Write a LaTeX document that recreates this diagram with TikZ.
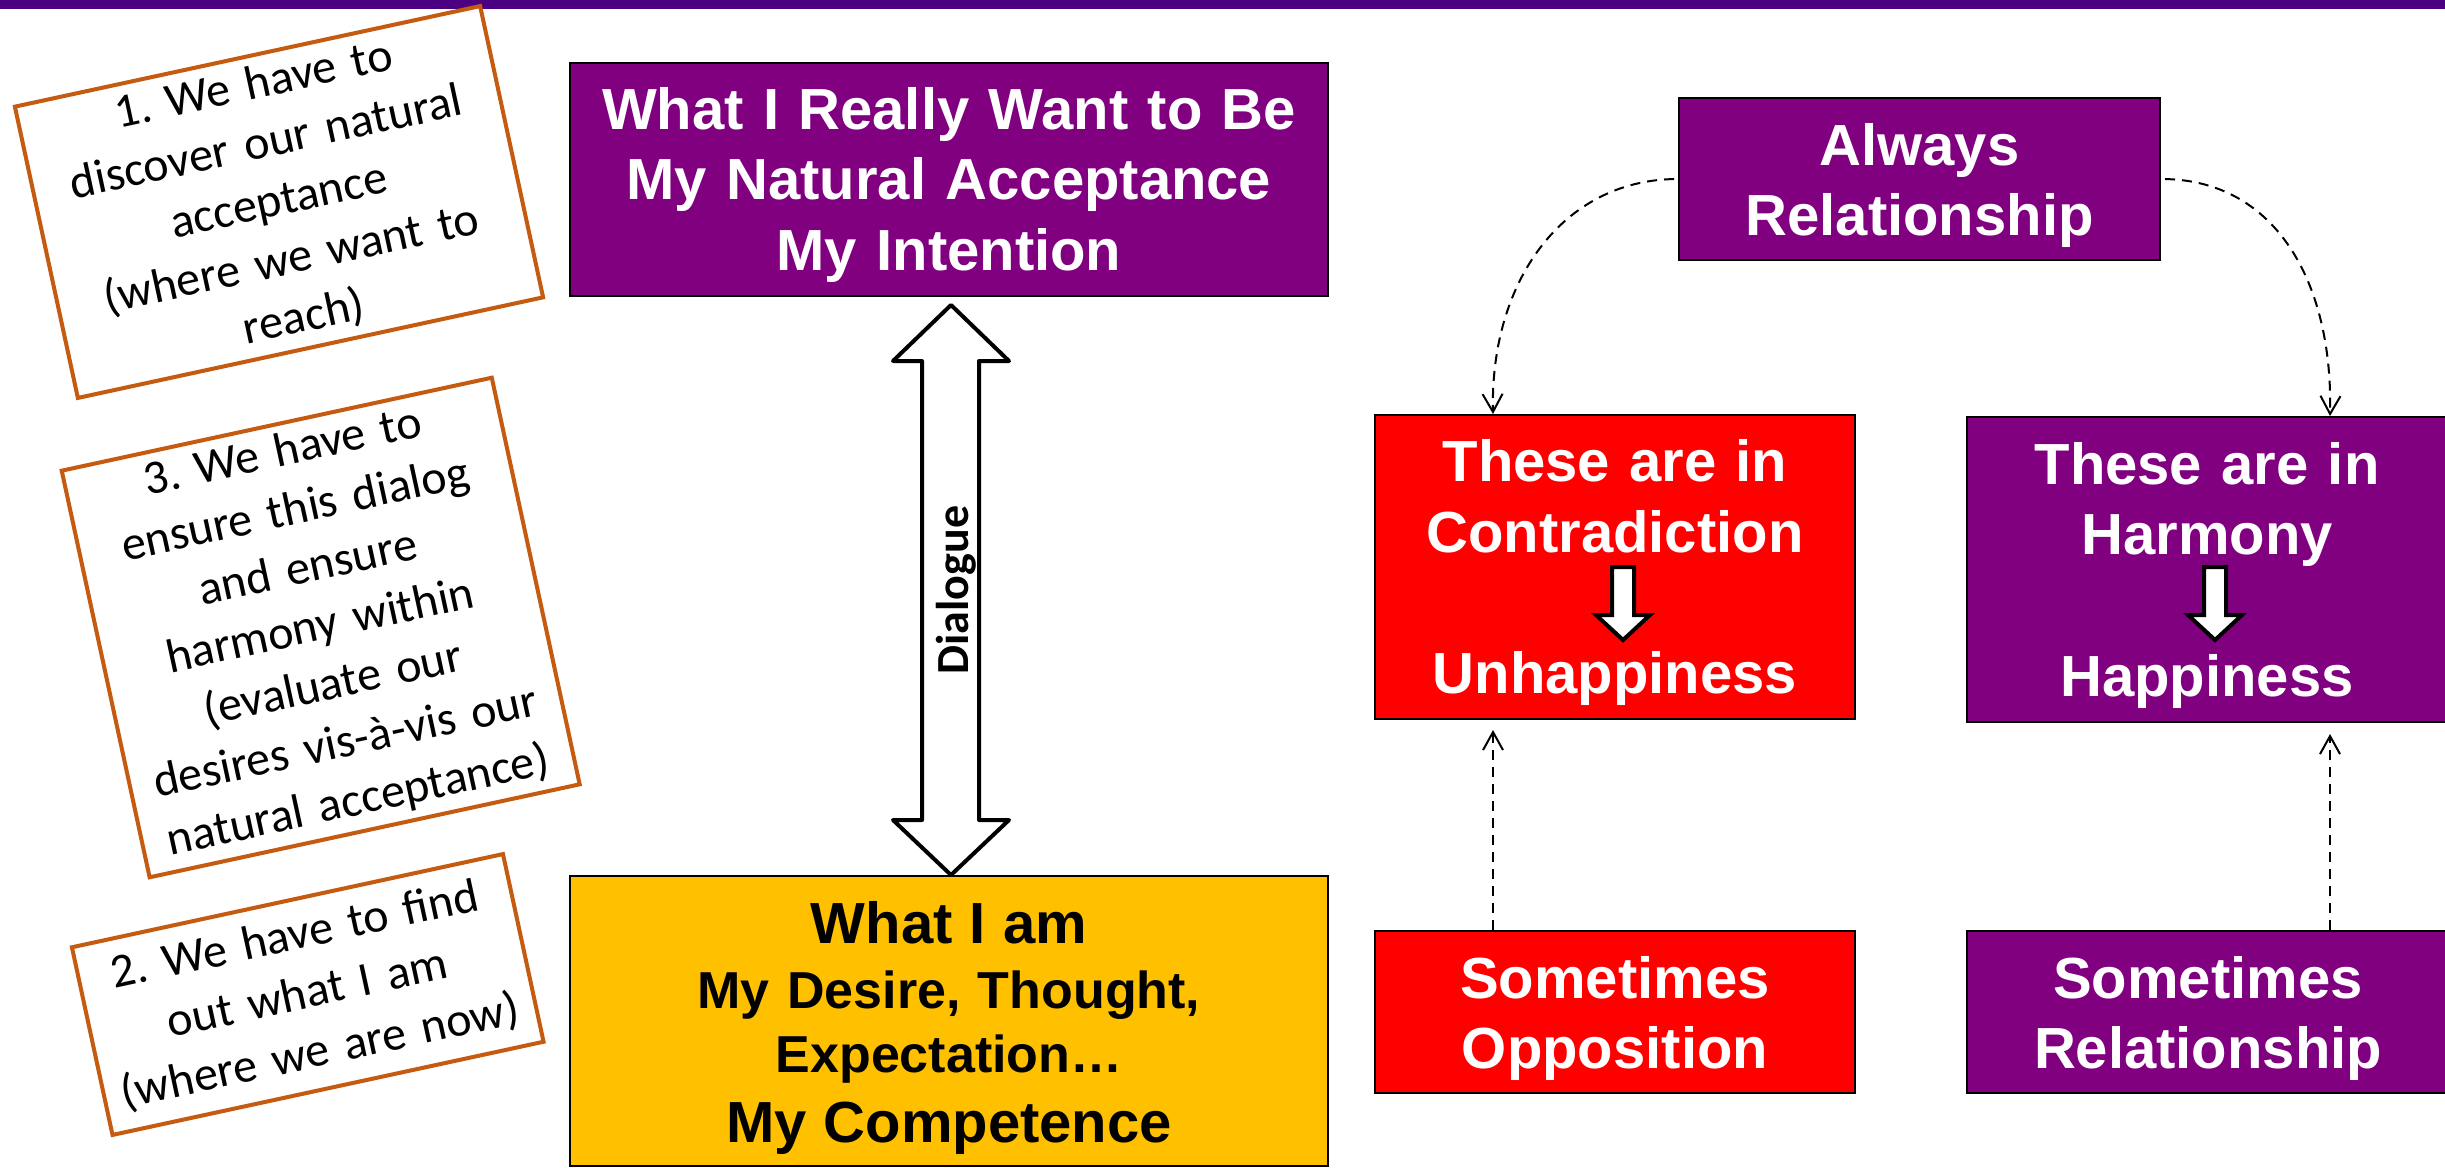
\documentclass[tikz,border=0pt]{standalone}
\usepackage{fontspec}
\setmainfont{Liberation Sans}
\newfontfamily\carlito{Carlito}
\usetikzlibrary{arrows.meta,calc}
\definecolor{barcol}{HTML}{4B0082}
\definecolor{purp}{HTML}{800080}
\definecolor{redc}{HTML}{FF0000}
\definecolor{yelc}{HTML}{FFC000}
\definecolor{notecol}{HTML}{C55A11}
\frenchspacing
\begin{document}
\begin{tikzpicture}[x=0.5pt,y=-0.5pt,
  box/.style={draw=black, line width=1pt, inner sep=0pt},
  btxt/.style={inner sep=0pt, align=center, text=white, font=\bfseries\fontsize{29}{35.25}\selectfont},
  note/.style={draw=notecol, line width=2pt, fill=white, inner sep=0pt, align=center, rotate=12.2, font=\carlito\fontsize{24}{29.75}\selectfont},
  dashedconn/.style={line width=1pt, dash pattern=on 5pt off 3.5pt, -{Straight Barb[length=9pt,width=10pt]}},
  blockarrow/.style={line width=2pt, fill=white, draw=black, line join=miter}
]
\useasboundingbox (0,0) rectangle (2445,1167);
\fill[white] (0,0) rectangle (2445,1167);
\fill[barcol] (0,0) rectangle (2445,9);

% left notes
\node[note, minimum width=238pt, minimum height=149pt, text width=230pt] (n1) at (279,202)
  {1. We have to\\discover our natural\\acceptance\\(where we want to\\reach)};
\node[note, minimum width=220pt, minimum height=208pt, text width=212pt] (n3) at (320.7,627.5)
  {3. We have to\\ensure this dialog\\and ensure\\harmony within\\(evaluate our\\desires vis-à-vis our\\natural acceptance)};
\node[note, minimum width=220.5pt, minimum height=96pt, text width=212pt] (n2) at (307.75,994.5)
  {2. We have to find\\out what I am\\(where we are now)};

% centre boxes
\node[box, fill=purp, minimum width=379pt, minimum height=116.5pt] (tb) at (949,179.5) {};
\node[btxt, text width=375pt] (ttb) at (949,185) {What I Really Want to Be\\My Natural Acceptance\\My Intention};
\node[box, fill=yelc, minimum width=379pt, minimum height=145pt] (yb) at (949,1021) {};
\node[inner sep=0pt, align=center, text=black, text width=375pt, font=\bfseries\fontsize{26}{32.25}\selectfont] (tyb) at (949,1028)
  {{\fontsize{29}{32.25}\selectfont What I am}\\My Desire, Thought,\\Expectation…\\[2.75pt]{\fontsize{29}{32.25}\selectfont My Competence}};

% dialogue arrow
\draw[blockarrow, line width=2pt, line join=round] (951,305) -- (1009,361) -- (979,361) -- (979,820) -- (1009,820) -- (951,875)
  -- (893,820) -- (922,820) -- (922,361) -- (893,361) -- cycle;
\node[inner sep=0pt, rotate=90, font=\carlito\bfseries\fontsize{23}{27}\selectfont] (dlg) at (956.5,590) {Dialogue};

% right boxes
\node[box, fill=purp, minimum width=240.5pt, minimum height=81pt] (al) at (1919.5,179) {};
\node[btxt, text width=238pt] (tal) at (1919.5,185.3) {Always\\Relationship};

\node[box, fill=redc, minimum width=240pt, minimum height=152pt] (rc) at (1615,567) {};
\node[btxt, text width=238pt] (trc) at (1615,496.3) {These are in\\Contradiction};
\node[inner sep=0pt, anchor=base, text=white, font=\bfseries\fontsize{29}{35.25}\selectfont] (trc2) at (1615,693) {Unhappiness};
\draw[blockarrow] (1612,567) -- (1634,567) -- (1634,615) -- (1650,615) -- (1623,640) -- (1596,615) -- (1612,615) -- cycle;

\node[box, fill=purp, minimum width=240pt, minimum height=152.5pt] (hm) at (2207,569.5) {};
\node[btxt, text width=238pt] (thm) at (2207,504.4) {These are in\\Harmony};
\node[inner sep=0pt, anchor=base, text=white, font=\bfseries\fontsize{29}{35.25}\selectfont] (thm2) at (2207,696) {Happiness};
\draw[blockarrow] (2204,567) -- (2226,567) -- (2226,615) -- (2242,615) -- (2215,640) -- (2188,615) -- (2204,615) -- cycle;

\node[box, fill=redc, minimum width=240pt, minimum height=81pt] (so) at (1615,1012) {};
\node[btxt, text width=238pt] (tso) at (1615,1018.4) {Sometimes\\Opposition};
\node[box, fill=purp, minimum width=240pt, minimum height=81pt] (sr) at (2207,1012) {};
\node[btxt, text width=238pt] (tsr) at (2208,1018.4) {Sometimes\\Relationship};

% dashed connectors
\draw[dashedconn, shorten <=2pt] (al.west) .. controls +(-115,2) and +(-3,-133) .. ([xshift=-61pt]rc.north);
\draw[dashedconn, shorten <=2pt] (al.east) .. controls +(115,2) and +(3,-133) .. ([xshift=61.5pt]hm.north);
\draw[dashedconn, shorten >=5pt] ([xshift=-61pt]so.north) -- ([xshift=-61pt]rc.south);
\draw[dashedconn, shorten >=5.5pt] ([xshift=61.5pt]sr.north) -- ([xshift=61.5pt]hm.south);
\end{tikzpicture}
\end{document}
